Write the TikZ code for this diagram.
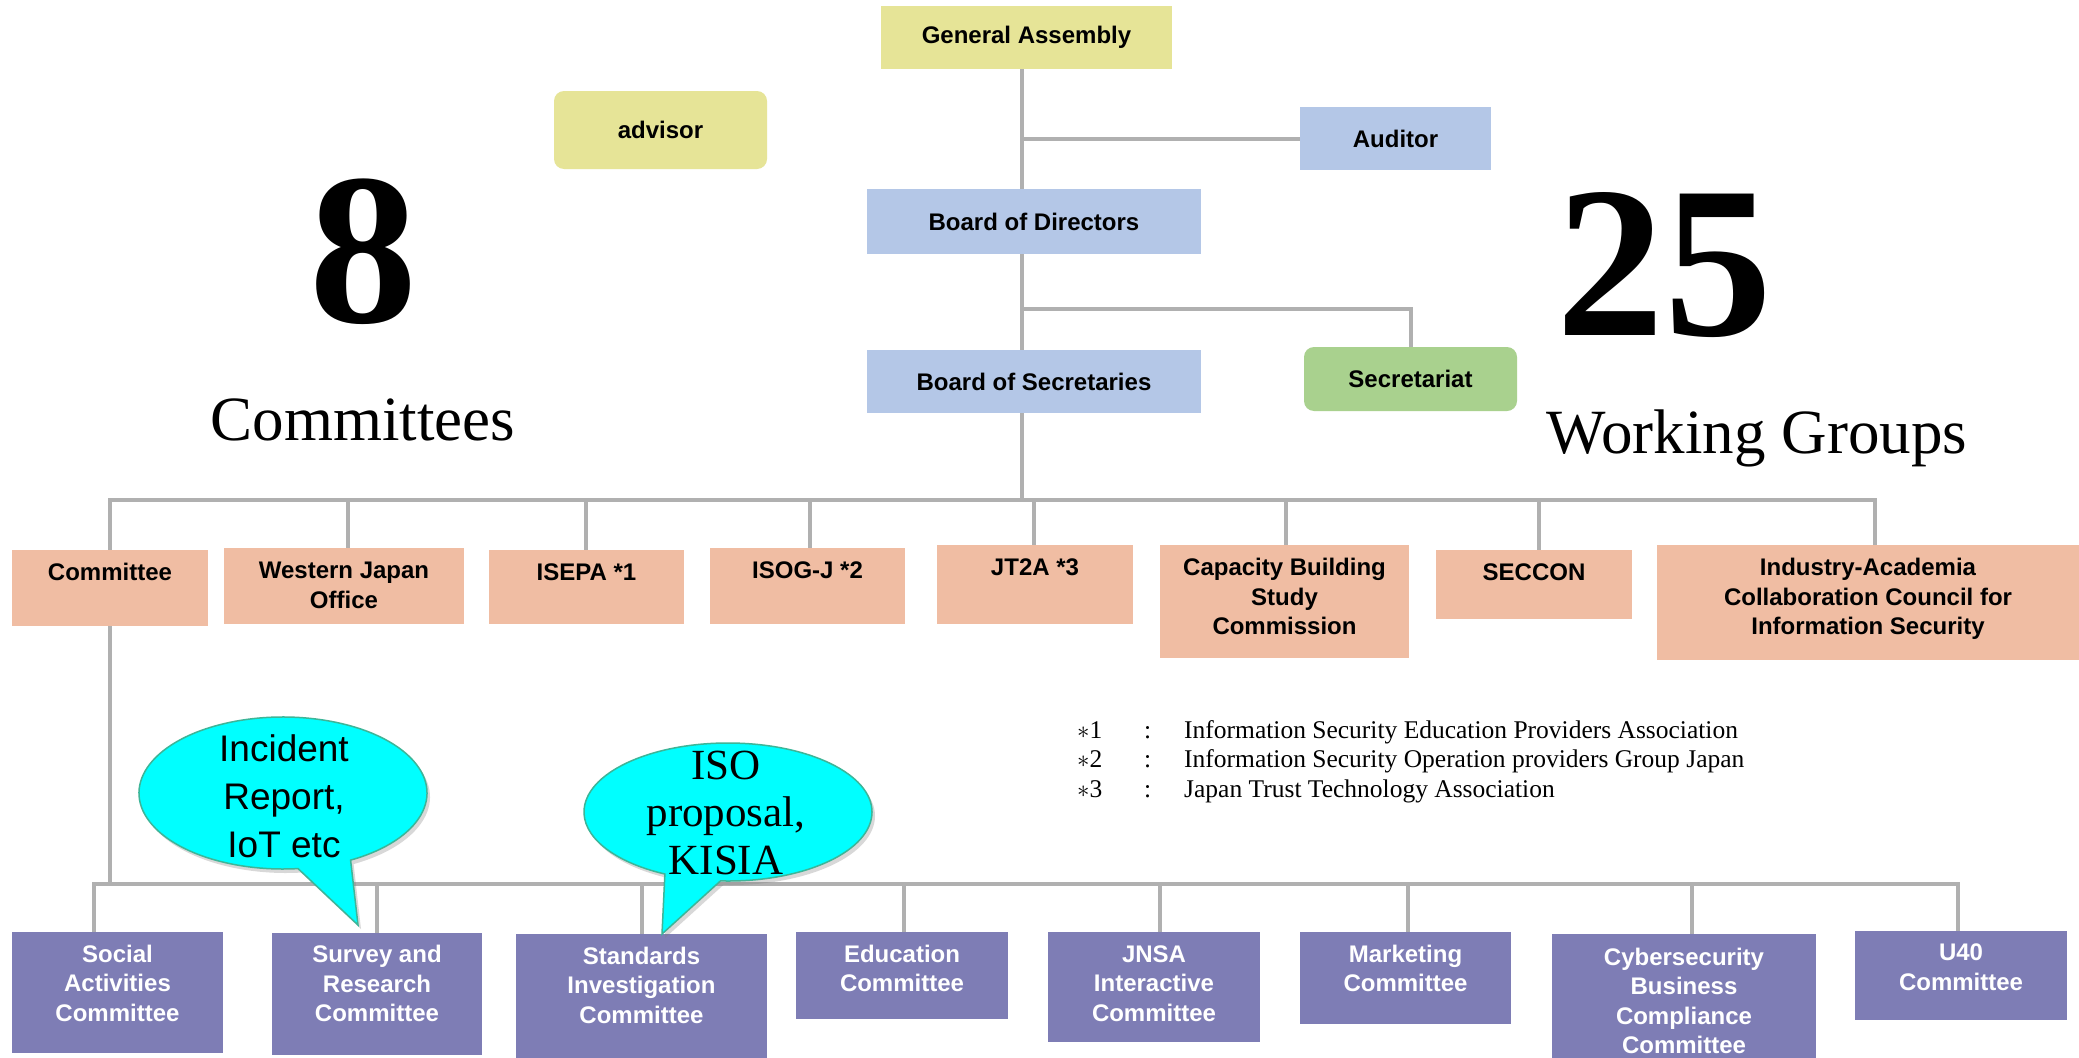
\documentclass[tikz,border=0pt]{standalone}
\usepackage{fontspec}
\setmainfont{Liberation Serif}
\setsansfont{Liberation Sans}
\usetikzlibrary{backgrounds,shadows}
\definecolor{ylw}{HTML}{E6E497}
\definecolor{blu}{HTML}{B4C7E7}
\definecolor{grn}{HTML}{A9D18E}
\definecolor{org}{HTML}{F0BDA3}
\definecolor{pur}{HTML}{7E7DB5}
\definecolor{lin}{HTML}{B0B0B0}
\definecolor{cyn}{HTML}{00FFFF}
\definecolor{cynb}{HTML}{3DB598}
\tikzset{
  box/.style={inner sep=0pt, outer sep=0pt, anchor=north west, draw=none},
  topbox/.style={box, font=\sffamily\bfseries\fontsize{24}{29.5}\selectfont},
  ybox/.style={topbox, fill=ylw},
  bbox/.style={topbox, fill=blu},
  gbox/.style={topbox, fill=grn, rounded corners=10pt},
  obox/.style={box, fill=org},
  pbox/.style={box, fill=pur},
  btext/.style={inner sep=0pt, align=center, anchor=base, font=\sffamily\bfseries\fontsize{24}{29.5}\selectfont},
  wtext/.style={btext, text=white},
  conn/.style={draw=lin, line width=4pt},
  bubble/.style={fill=cyn, draw=cynb, line width=1.5pt, drop shadow={opacity=0.3, shadow xshift=3pt, shadow yshift=-4pt}},
  bignum/.style={inner sep=0pt, anchor=base, font=\rmfamily\bfseries\fontsize{216}{216}\selectfont},
  bigword/.style={inner sep=0pt, anchor=base, font=\rmfamily\fontsize{63}{70}\selectfont},
  fn/.style={inner sep=0pt, anchor=base west, font=\rmfamily\fontsize{25.5}{30}\selectfont},
}
\begin{document}
\begin{tikzpicture}[x=1pt,y=-1pt]
\useasboundingbox (0,0) rectangle (2079,1057);

% top boxes
\node[ybox, minimum width=291pt, minimum height=63pt] (ga) at (881,6) {General Assembly};
\node[ybox, rounded corners=10pt, minimum width=213pt, minimum height=78pt] (advisor) at (554,91) {advisor};
\node[bbox, minimum width=191pt, minimum height=63pt] (auditor) at (1300,107) {Auditor};
\node[bbox, minimum width=334pt, minimum height=65pt] (bod) at (867,189) {Board of Directors};
\node[bbox, minimum width=334pt, minimum height=63pt] (bos) at (867,350) {Board of Secretaries};
\node[gbox, minimum width=213pt, minimum height=64pt] (sec) at (1304,347) {Secretariat};

% big figures
\node[bignum] (eight) at (363,322) {8};
\node[bignum] (twentyfive) at (1664,335) {25};
\node[bigword] (cmt) at (363,440) {Committees};
\node[bigword] (wg) at (1757,453) {Working Groups};

% upper (orange) boxes; multi-line text is anchored at its last baseline
\node[obox, minimum width=196pt, minimum height=76pt] (committee) at (12,550) {};
\node[btext] (committee-t) at ([yshift=-30.5pt]committee.north) {Committee};
\node[obox, minimum width=240pt, minimum height=76pt] (western) at (224,548) {};
\node[btext] (western-t) at ([yshift=-60pt]western.north) {Western Japan\\Office};
\node[obox, minimum width=195pt, minimum height=74pt] (isepa) at (489,550) {};
\node[btext] (isepa-t) at ([yshift=-30.5pt]isepa.north) {ISEPA *1};
\node[obox, minimum width=195pt, minimum height=76pt] (isogj) at (710,548) {};
\node[btext] (isogj-t) at ([yshift=-30.5pt]isogj.north) {ISOG-J *2};
\node[obox, minimum width=196pt, minimum height=79pt] (jt2a) at (937,545) {};
\node[btext] (jt2a-t) at ([yshift=-30.5pt]jt2a.north) {JT2A *3};
\node[obox, minimum width=249pt, minimum height=113pt] (capacity) at (1160,545) {};
\node[btext] (capacity-t) at ([yshift=-89.5pt]capacity.north) {Capacity Building\\Study\\Commission};
\node[obox, minimum width=196pt, minimum height=69pt] (seccon) at (1436,550) {};
\node[btext] (seccon-t) at ([yshift=-30.5pt]seccon.north) {SECCON};
\node[obox, minimum width=422pt, minimum height=115pt] (industry) at (1657,545) {};
\node[btext] (industry-t) at ([yshift=-89.5pt]industry.north) {Industry-Academia\\Collaboration Council for\\Information Security};

% footnotes
\node[fn] (f1a) at (1077,738) {$\ast$1};
\node[fn] (f1b) at (1144,738) {:};
\node[fn] (f1c) at (1184,738) {Information Security Education Providers Association};
\node[fn] (f2a) at (1077,767.5) {$\ast$2};
\node[fn] (f2b) at (1144,767.5) {:};
\node[fn] (f2c) at (1184,767.5) {Information Security Operation providers Group Japan};
\node[fn] (f3a) at (1077,797) {$\ast$3};
\node[fn] (f3b) at (1144,797) {:};
\node[fn] (f3c) at (1184,797) {Japan Trust Technology Association};

% lower (purple) boxes
\node[pbox, minimum width=211pt, minimum height=121pt] (social) at (12,932) {};
\node[wtext] (social-t) at ([yshift=-89pt]social.north) {Social\\Activities\\Committee};
\node[pbox, minimum width=210pt, minimum height=122pt] (survey) at (272,933) {};
\node[wtext] (survey-t) at ([yshift=-88.5pt]survey.north) {Survey and\\Research\\Committee};
\node[pbox, minimum width=251pt, minimum height=130pt] (standards) at (516,934) {};
\node[wtext] (standards-t) at ([yshift=-89pt]standards.north) {Standards\\Investigation\\Committee};
\node[pbox, minimum width=212pt, minimum height=87pt] (education) at (796,932) {};
\node[wtext] (education-t) at ([yshift=-59.5pt]education.north) {Education\\Committee};
\node[pbox, minimum width=212pt, minimum height=110pt] (jnsa) at (1048,932) {};
\node[wtext] (jnsa-t) at ([yshift=-89pt]jnsa.north) {JNSA\\Interactive\\Committee};
\node[pbox, minimum width=211pt, minimum height=92pt] (marketing) at (1300,932) {};
\node[wtext] (marketing-t) at ([yshift=-59.5pt]marketing.north) {Marketing\\Committee};
\node[pbox, minimum width=264pt, minimum height=130pt] (cyber) at (1552,934) {};
\node[wtext] (cyber-t) at ([yshift=-119.5pt]cyber.north) {Cybersecurity\\Business\\Compliance\\Committee};
\node[pbox, minimum width=212pt, minimum height=89pt] (u40) at (1855,931) {};
\node[wtext] (u40-t) at ([yshift=-59pt]u40.north) {U40\\Committee};

% connectors
\begin{scope}[on background layer]
\fill[white] (0,0) rectangle (2079,1057);
\coordinate (spine) at (1022,500);
\coordinate (sbr) at (1022,309);
\draw[conn] (ga.south -| spine) -- (spine);
\draw[conn] (auditor.west -| spine) -- (auditor.west);
\draw[conn] (sbr) -| (sec.north);
\coordinate (t2) at (348,500);
\coordinate (t3) at (586,500);
\coordinate (t4) at (810,500);
\coordinate (t5) at (1034,500);
\coordinate (t6) at (1286,500);
\coordinate (t7) at (1539,500);
\coordinate (t8) at (1875,500);
\draw[conn] (committee.north) -- (committee.north |- spine) -- (t8) -- (t8 |- industry.north);
\draw[conn] (t2) -- (t2 |- western.north);
\draw[conn] (t3) -- (t3 |- isepa.north);
\draw[conn] (t4) -- (t4 |- isogj.north);
\draw[conn] (t5) -- (t5 |- jt2a.north);
\draw[conn] (t6) -- (t6 |- capacity.north);
\draw[conn] (t7) -- (t7 |- seccon.north);
\coordinate (l1) at (94,884);
\coordinate (l2) at (377,884);
\coordinate (l3) at (642,884);
\coordinate (l4) at (904,884);
\coordinate (l5) at (1160,884);
\coordinate (l6) at (1408,884);
\coordinate (l7) at (1692,884);
\coordinate (l9) at (1958,884);
\draw[conn] (committee.south) -- (committee.south |- l1);
\draw[conn] (l1 |- social.north) -- (l1) -- (l9) -- (l9 |- u40.north);
\draw[conn] (l2) -- (l2 |- survey.north);
\draw[conn] (l3) -- (l3 |- standards.north);
\draw[conn] (l4) -- (l4 |- education.north);
\draw[conn] (l5) -- (l5 |- jnsa.north);
\draw[conn] (l6) -- (l6 |- marketing.north);
\draw[conn] (l7) -- (l7 |- cyber.north);
\end{scope}

% speech bubbles
\coordinate (b1c) at (283,793);
\coordinate (b1tip) at (358,925);
\draw[bubble] (b1tip) -- ([shift={(-62:144pt and 76pt)}]b1c) arc[start angle=-62, end angle=276, x radius=144pt, y radius=76pt] -- cycle;
\node[inner sep=0pt, align=center, anchor=base, font=\sffamily\fontsize{37}{48}\selectfont] (b1t) at (284,857) {Incident\\Report,\\IoT etc};
\coordinate (b2c) at (728,812);
\coordinate (b2tip) at (662,934);
\draw[bubble] (b2tip) -- ([shift={(-93:144pt and 69pt)}]b2c) arc[start angle=-93, end angle=244, x radius=144pt, y radius=69pt] -- cycle;
\node[inner sep=0pt, align=center, anchor=base, font=\rmfamily\fontsize{43}{47.5}\selectfont] (b2t) at (726,874) {ISO\\proposal,\\KISIA};
\end{tikzpicture}
\end{document}
